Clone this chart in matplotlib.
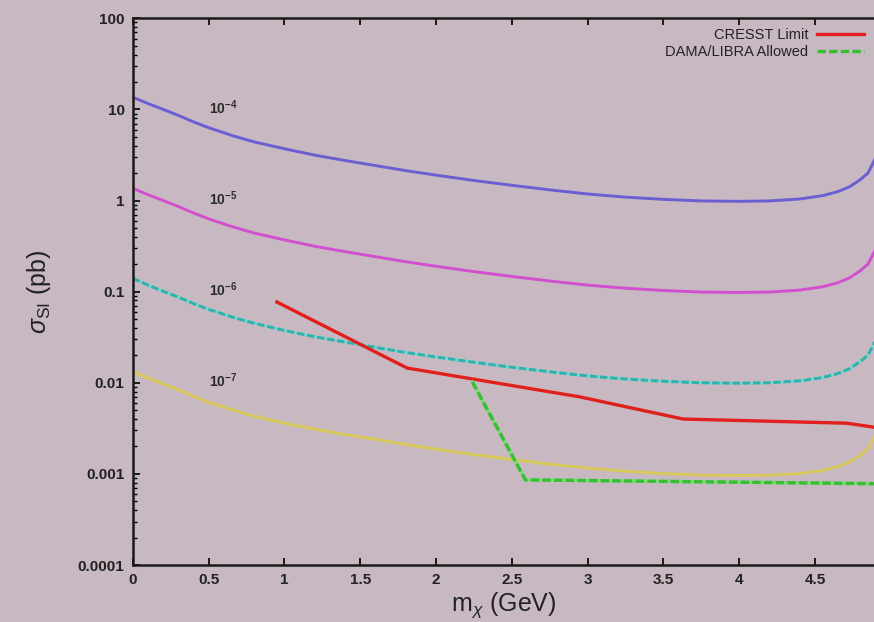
import numpy as np
import matplotlib
matplotlib.use("Agg")
import matplotlib.pyplot as plt
from matplotlib.ticker import LogLocator, NullFormatter, FixedLocator

plt.rcParams['font.family'] = ['Liberation Sans', 'DejaVu Sans']
plt.rcParams['mathtext.fontset'] = 'custom'
plt.rcParams['mathtext.rm'] = 'Liberation Sans'
plt.rcParams['mathtext.it'] = 'Liberation Sans:italic'
plt.rcParams['mathtext.bf'] = 'Liberation Sans:bold'

# ---- data ----
mass = [0, 0.1, 0.2, 0.3, 0.4, 0.5, 0.65, 0.8, 1.0, 1.2, 1.4, 1.6, 1.8, 2.0,
        2.25, 2.5, 2.75, 3.0, 3.25, 3.5, 3.75, 4.0, 4.2, 4.4, 4.55, 4.65,
        4.73, 4.8, 4.85, 4.89, 4.92]

sigma_1e4 = [13.6, 11.6, 10.0, 8.6, 7.3, 6.3, 5.2, 4.4, 3.7, 3.15, 2.75, 2.42, 2.13, 1.9,
             1.66, 1.47, 1.31, 1.18, 1.09, 1.03, 0.99, 0.98, 0.99, 1.04, 1.13, 1.25,
             1.42, 1.7, 2.0, 2.7, 3.5]
sigma_1e5 = [1.36, 1.16, 1.0, 0.86, 0.73, 0.63, 0.52, 0.44, 0.37, 0.315, 0.275, 0.242, 0.213, 0.19,
             0.166, 0.147, 0.131, 0.118, 0.109, 0.103, 0.099, 0.098, 0.099, 0.104, 0.113, 0.125,
             0.142, 0.17, 0.2, 0.27, 0.34]
sigma_1e6 = [0.14, 0.118, 0.101, 0.087, 0.074, 0.064, 0.053, 0.045, 0.0375, 0.032, 0.028, 0.0245, 0.0215, 0.0192,
             0.0168, 0.0148, 0.0132, 0.0119, 0.011, 0.0104, 0.0100, 0.0099, 0.0100, 0.0105, 0.0114, 0.0126,
             0.0143, 0.0172, 0.02, 0.027, 0.033]
sigma_1e7 = [0.0132, 0.0113, 0.0097, 0.0084, 0.0071, 0.0061, 0.0051, 0.0043, 0.0036, 0.0031, 0.0027, 0.0024, 0.0021, 0.00187,
             0.00163, 0.00144, 0.00128, 0.00116, 0.00107, 0.00101, 0.00097, 0.00096, 0.00097, 0.00101, 0.00109, 0.0012,
             0.00136, 0.0016, 0.0019, 0.0025, 0.003]

cresst_m = [0.95, 1.81, 2.95, 3.63, 4.71, 4.92]
cresst_s = [0.077, 0.0145, 0.0070, 0.0040, 0.0036, 0.0032]

dama_m = [2.24, 2.59, 4.92]
dama_s = [0.0102, 0.00086, 0.00078]

curve_labels = [r'$\mathbf{10^{-4}}$', r'$\mathbf{10^{-5}}$', r'$\mathbf{10^{-6}}$', r'$\mathbf{10^{-7}}$']
label_pos = [10.5, 1.05, 0.105, 0.0105]

bg = '#c8b8c2'
fig = plt.figure(figsize=(8.74, 6.22), dpi=100, facecolor=bg)
ax = fig.add_axes([0.152, 0.0916, 0.848, 0.879], facecolor=bg)

lw = 2.1
ax.plot(mass, sigma_1e4, color='#6a5ed2', lw=lw)
ax.plot(mass, sigma_1e5, color='#d24fd0', lw=lw)
# gnuplot-style textured lines: light solid base plus dense dashes on top
ax.plot(mass, sigma_1e6, color='#7fd2cc', lw=lw)
ax.plot(mass, sigma_1e6, color='#2fb2ad', lw=lw, ls=(0, (2.5, 1.0)))
ax.plot(mass, sigma_1e7, color='#d9c95a', lw=lw)
ax.plot(cresst_m, cresst_s, color='#e0201c', lw=2.4, label='CRESST Limit')
ax.plot(dama_m, dama_s, color='#7ed878', lw=2.4)
ax.plot(dama_m, dama_s, color='#36bf30', lw=2.4, ls=(0, (2.5, 1.0)), label='DAMA/LIBRA Allowed')

for txt, yv in zip(curve_labels, label_pos):
    ax.text(0.5, yv, txt, fontsize=10, color='#2a2a2a', ha='left', va='center')

ax.set_yscale('log')
ax.set_ylim(1e-4, 100)
ax.set_xlim(0, 4.89)

ax.xaxis.set_major_locator(FixedLocator([0, 0.5, 1, 1.5, 2, 2.5, 3, 3.5, 4, 4.5]))
ax.set_xticklabels(['0', '0.5', '1', '1.5', '2', '2.5', '3', '3.5', '4', '4.5'])
ax.yaxis.set_minor_locator(LogLocator(base=10, subs=np.arange(2, 10), numticks=20))
ax.yaxis.set_minor_formatter(NullFormatter())
ax.set_yticks([1e-4, 1e-3, 1e-2, 0.1, 1, 10, 100])
ax.set_yticklabels(['0.0001', '0.001', '0.01', '0.1', '1', '10', '100'])

ax.tick_params(axis='both', which='major', direction='in', length=5, width=1.2,
               labelsize=11, labelcolor='#222222', top=True, right=False, pad=6)
ax.tick_params(axis='y', which='minor', direction='in', length=3, width=1.0, right=False)
for lab in ax.get_xticklabels() + ax.get_yticklabels():
    lab.set_fontweight('bold')
for side in ['left', 'bottom', 'top']:
    ax.spines[side].set_linewidth(1.8)
    ax.spines[side].set_color('#1a1a1a')
ax.spines['right'].set_visible(False)

ax.set_xlabel(r'm$_\chi$ (GeV)', fontsize=18, color='#222222', labelpad=2)
ax.set_ylabel(r'$\sigma_{\rm SI}$ (pb)', fontsize=18, color='#222222', labelpad=18)

ax.legend(loc='upper right', bbox_to_anchor=(1.0, 1.0), frameon=False,
          markerfirst=False, fontsize=10.5, handlelength=3.2, handletextpad=0.6,
          labelspacing=0.15, borderaxespad=0.3, labelcolor='#222222')

fig.savefig('out.png', dpi=100, facecolor=bg)
